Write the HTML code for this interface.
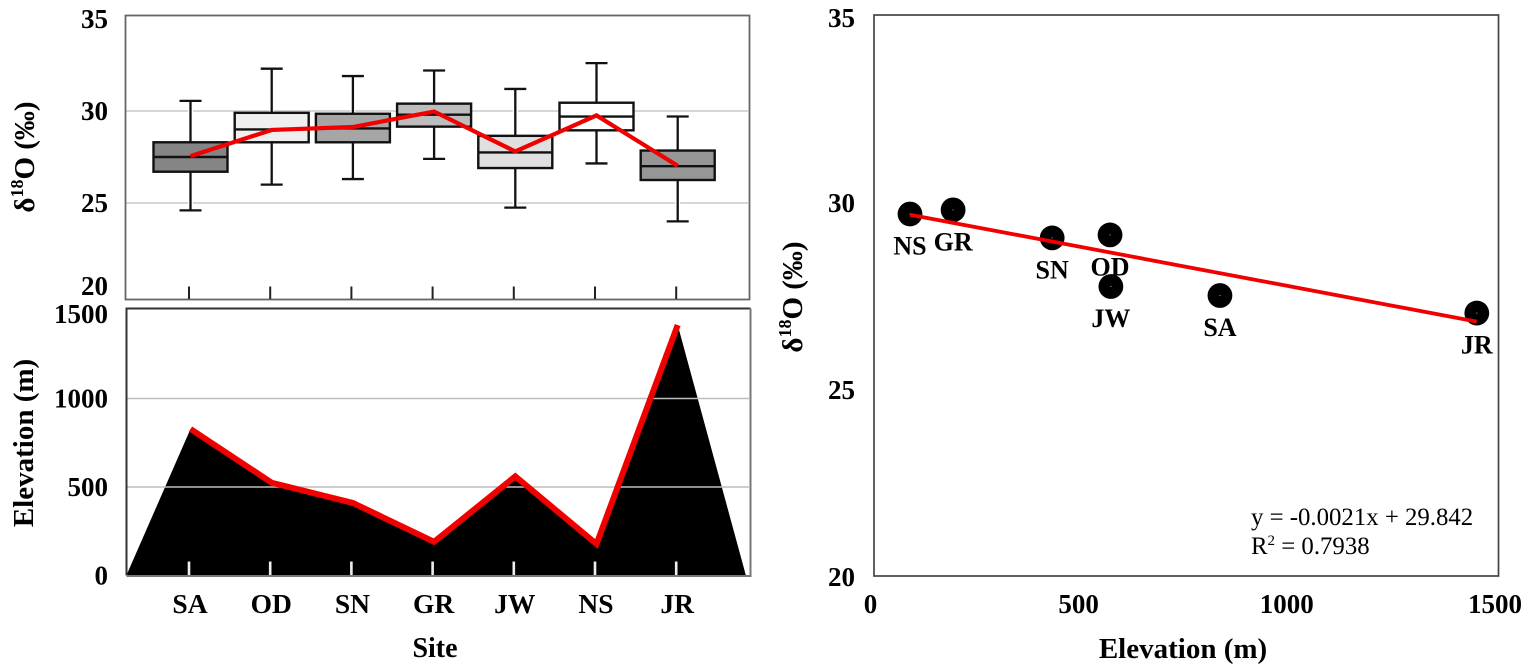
<!DOCTYPE html>
<html lang="en">
<head>
<meta charset="utf-8">
<title>Site oxygen isotope and elevation charts</title>
<style>
html,body{margin:0;padding:0;background:#fff;width:1535px;height:669px;overflow:hidden}
svg{display:block}
text{font-family:"Liberation Serif",serif;fill:#000}
.b{font-weight:bold}
</style>
</head>
<body>
<svg id="figure" width="1535" height="669" viewBox="0 0 1535 669" xmlns="http://www.w3.org/2000/svg">
  <g id="top-panel"></g>
  <g id="bottom-panel"></g>
  <g id="right-panel"></g>

  <text class="b" font-size="29" transform="translate(34,157) rotate(-90)" text-anchor="middle">δ<tspan font-size="18" dy="-11">18</tspan><tspan dy="11">O (‰)</tspan></text>
  <text class="b" font-size="29" transform="translate(33,443) rotate(-90)" text-anchor="middle">Elevation (m)</text>
  <text class="b" font-size="28" x="435" y="657" text-anchor="middle">Site</text>
  <text class="b" font-size="29" transform="translate(802,297) rotate(-90)" text-anchor="middle">δ<tspan font-size="18" dy="-11">18</tspan><tspan dy="11">O (‰)</tspan></text>
  <text class="b" font-size="29" x="1183" y="658" text-anchor="middle">Elevation (m)</text>
  <text font-size="24.8" x="1251" y="525">y = -0.0021x + 29.842</text>
  <text font-size="24.8" x="1251" y="554">R<tspan font-size="15" dy="-9">2</tspan><tspan dy="9"> = 0.7938</tspan></text>
</svg>

<script>
// ---- data ----
var sites = ['SA', 'OD', 'SN', 'GR', 'JW', 'NS', 'JR'];
var whiskerHigh = [30.55, 32.3, 31.9, 32.2, 31.2, 32.6, 29.7];
var boxQ3 = [28.3, 29.9, 29.85, 30.4, 28.65, 30.45, 27.85];
var boxMedian = [27.5, 29.0, 29.05, 29.8, 27.75, 29.7, 27.0];
var boxQ1 = [26.7, 28.3, 28.3, 29.15, 26.9, 28.95, 26.25];
var whiskerLow = [24.6, 26.0, 26.3, 27.4, 24.75, 27.15, 24.0];
var meanIsotope = [27.55, 28.97, 29.13, 29.97, 27.8, 29.76, 27.02];
var boxFills = ['#858585', '#efefef', '#a6a6a6', '#bdbdbd', '#e0e0e0', '#ffffff', '#969696'];
var siteElevation = [828, 524, 410, 190, 560, 178, 1415];
var scatterElevation = [831, 567, 428, 190, 569, 86.5, 1448];
var scatterIsotope = [27.5, 29.12, 29.04, 29.79, 27.74, 29.68, 27.03];
var isotopeTicks = [35, 30, 25, 20];
var isotopeGrid = [30, 25];
var elevationTicks = [1500, 1000, 500, 0];
var elevationGrid = [1000, 500];
var scatterXTicks = [0, 500, 1000, 1500];
var trendSlope = -0.0021;
var trendIntercept = 29.842;

// ---- axis functions ----
function catX(i) { return 190.5 + 81.2 * i; }
function topY(v) { return 203 - (v - 25) * 18.4; }
function lowY(v) { return 575.5 - v * 0.177; }
function scX(v) { return 874 + v * 0.4163; }
function scY(v) { return 576 - (v - 20) * 37.4; }
function clamp(v, a, b) { return Math.max(a, Math.min(b, v)); }

var NS = 'http://www.w3.org/2000/svg';
function make(parent, tag, attrs, txt) {
  var n = document.createElementNS(NS, tag);
  for (var k in attrs) n.setAttribute(k, attrs[k]);
  if (txt !== undefined) n.textContent = txt;
  parent.appendChild(n);
  return n;
}
var topG = document.getElementById('top-panel');
var lowG = document.getElementById('bottom-panel');
var rightG = document.getElementById('right-panel');
var el, i;

// ---- top panel: box plot ----
isotopeGrid.forEach(function (v) {
  var el = make(topG, 'line', {x1: 126, x2: 748, y1: topY(v), y2: topY(v), stroke: '#c8c8c8', 'stroke-width': 1.5});
  
  
});
el = make(topG, 'rect', {x: 125.5, y: 15.5, width: 624, height: 284, fill: 'none', stroke: '#666', 'stroke-width': 1.8});


isotopeTicks.forEach(function (v) {
  var el = make(topG, 'text', {'class': 'b', 'font-size': 27, x: 108, y: clamp(topY(v) + 9, 26, 295), 'text-anchor': 'end'}, String(v));
  
  
});
sites.forEach(function (s, i) {
  var x = catX(i);
  var t = make(topG, 'line', {x1: x - 1.5, x2: x - 1.5, y1: 286.5, y2: 299, stroke: '#222', 'stroke-width': 2});
  
  

  var halo = make(topG, 'line', {x1: x, x2: x, y1: topY(whiskerHigh[i]), y2: topY(whiskerLow[i]), stroke: '#fff', 'stroke-width': 5});
  
  

  var w = make(topG, 'line', {x1: x, x2: x, y1: topY(whiskerHigh[i]), y2: topY(whiskerLow[i]), stroke: '#111', 'stroke-width': 2.3});
  
  

  var capHi = make(topG, 'line', {x1: x - 11, x2: x + 11, y1: topY(whiskerHigh[i]), y2: topY(whiskerHigh[i]), stroke: '#111', 'stroke-width': 2.3});
  
  

  var capLo = make(topG, 'line', {x1: x - 11, x2: x + 11, y1: topY(whiskerLow[i]), y2: topY(whiskerLow[i]), stroke: '#111', 'stroke-width': 2.3});
  
  

  var b = make(topG, 'rect', {x: x - 37, width: 74, y: topY(boxQ3[i]), height: topY(boxQ1[i]) - topY(boxQ3[i]), fill: boxFills[i], stroke: '#111', 'stroke-width': 2.4});
  
  

  var m = make(topG, 'line', {x1: x - 37, x2: x + 37, y1: topY(boxMedian[i]), y2: topY(boxMedian[i]), stroke: '#111', 'stroke-width': 2.4});
  
  
});
el = make(topG, 'polyline', {
  points: meanIsotope.map(function (v, i) { return catX(i) + ',' + topY(v); }).join(' '),
  fill: 'none', stroke: '#f00000', 'stroke-width': 4.2, 'stroke-linejoin': 'miter'
});



// ---- bottom panel: elevation area ----
var areaStart = catX(-0.79);
var areaEnd = catX(6.84);
el = make(lowG, 'polygon', {
  points: areaStart + ',' + lowY(0) + ' ' +
    siteElevation.map(function (v, i) { return catX(i) + ',' + lowY(v); }).join(' ') +
    ' ' + areaEnd + ',' + lowY(0),
  fill: '#000'
});


elevationGrid.forEach(function (v) {
  var el = make(lowG, 'line', {x1: 127, x2: 749, y1: lowY(v), y2: lowY(v), stroke: '#bdbdbd', 'stroke-width': 1.5});
  
  
});
el = make(lowG, 'path', {d: 'M126.5 575.5V308.5H750.5', fill: 'none', stroke: '#333', 'stroke-width': 2});


el = make(lowG, 'path', {d: 'M750.5 308.5V576H126.5', fill: 'none', stroke: '#777', 'stroke-width': 2});


elevationTicks.forEach(function (v) {
  var el = make(lowG, 'text', {'class': 'b', 'font-size': 27, x: 108, y: clamp(lowY(v) + 9, 323, 600), 'text-anchor': 'end'}, String(v));
  
  
});
sites.forEach(function (s, i) {
  var x = catX(i);
  var t = make(lowG, 'line', {x1: x - 1.5, x2: x - 1.5, y1: 561.5, y2: 575, stroke: '#eee', 'stroke-width': 2.6});
  
  

  var l = make(lowG, 'text', {'class': 'b', 'font-size': 27.5, x: x - 0.5, y: 613, 'text-anchor': 'middle'}, s);
  
  
});
el = make(lowG, 'polyline', {
  points: siteElevation.map(function (v, i) { return catX(i) + ',' + lowY(v); }).join(' '),
  fill: 'none', stroke: '#f00000', 'stroke-width': 6, 'stroke-linejoin': 'miter'
});



// ---- right panel: scatter ----
el = make(rightG, 'rect', {x: 874, y: 15, width: 624.5, height: 561, fill: 'none', stroke: '#444', 'stroke-width': 1.7});


isotopeTicks.forEach(function (v) {
  var el = make(rightG, 'text', {'class': 'b', 'font-size': 27, x: 855, y: clamp(scY(v) + 10, 27, 587), 'text-anchor': 'end'}, String(v));
  
  
});
scatterXTicks.forEach(function (v) {
  var el = make(rightG, 'text', {'class': 'b', 'font-size': 27, x: scX(v) - 3.5, y: 613, 'text-anchor': 'middle'}, String(v));
  
  
});
sites.forEach(function (s, i) {
  var p = make(rightG, 'circle', {cx: scX(scatterElevation[i]), cy: scY(scatterIsotope[i]), r: 12.4, fill: '#000'});
  
  

  var d = make(rightG, 'circle', {cx: scX(scatterElevation[i]), cy: scY(scatterIsotope[i]), r: 0.6, fill: '#999'});
  
  
});
var trendFrom = Math.min.apply(null, scatterElevation);
var trendTo = Math.max.apply(null, scatterElevation);
el = make(rightG, 'line', {
  x1: scX(trendFrom), y1: scY(trendSlope * trendFrom + trendIntercept),
  x2: scX(trendTo), y2: scY(trendSlope * trendTo + trendIntercept),
  stroke: '#f00000', 'stroke-width': 3.8
});


sites.forEach(function (s, i) {
  var l = make(rightG, 'text', {'class': 'b', 'font-size': 26, x: scX(scatterElevation[i]), y: scY(scatterIsotope[i]) + 40.5, 'text-anchor': 'middle'}, s);
  
  
});
</script>
</body>
</html>
